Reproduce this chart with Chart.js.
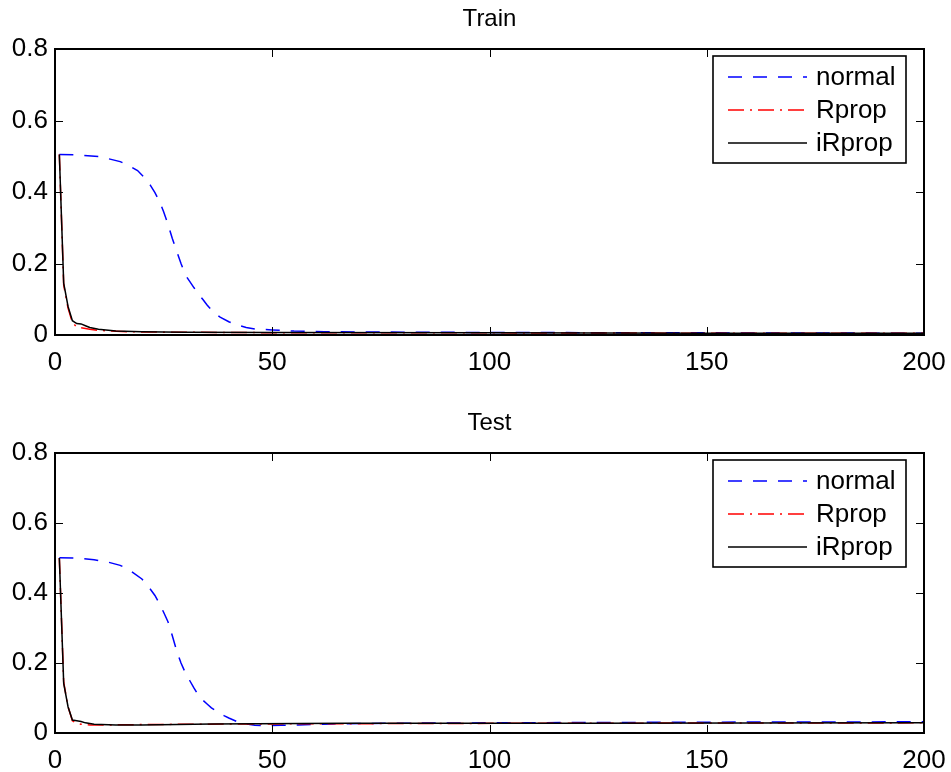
<!DOCTYPE html>
<html>
<head>
<meta charset="utf-8">
<title>Train / Test</title>
<script src="https://cdn.jsdelivr.net/npm/chart.js@4.4.1/dist/chart.umd.min.js"></script>
<style>
  body { margin: 0; background: #fff; width: 951px; height: 772px; position: relative; overflow: hidden; }
  .plot { position: absolute; left: 0; width: 951px; height: 386px; }
</style>
</head>
<body>
<div class="plot" style="top:0"><canvas id="trainChart"></canvas></div>
<div class="plot" style="top:386px"><canvas id="testChart"></canvas></div>
<script>
// axis ticks
const xTicks = [0, 50, 100, 150, 200];
const yTicks = [0, 0.2, 0.4, 0.6, 0.8];
const seriesNames = ['normal', 'Rprop', 'iRprop'];

// Train - error per iteration
const trainNormalIter = [1, 5, 10, 12, 15, 17, 19, 21, 22, 23, 24, 25, 26, 27, 28, 29, 30, 31, 32, 33, 34, 35, 36, 37, 38, 40, 42, 44, 46, 50, 55, 62, 80, 100, 150, 200];
const trainNormal     = [0.505, 0.504, 0.499, 0.494, 0.485, 0.474, 0.46, 0.435, 0.418, 0.398, 0.375, 0.345, 0.31, 0.27, 0.235, 0.2, 0.168, 0.15, 0.132, 0.115, 0.1, 0.084, 0.07, 0.059, 0.05, 0.037, 0.028, 0.021, 0.017, 0.014, 0.011, 0.009, 0.008, 0.007, 0.006, 0.005];
const trainRpropIter  = [1, 2, 3, 4, 5, 6, 8, 10, 13, 17, 25, 40, 60, 100, 150, 200];
const trainRprop      = [0.505, 0.14, 0.075, 0.035, 0.022, 0.02, 0.016, 0.013, 0.011, 0.009, 0.008, 0.007, 0.006, 0.006, 0.005, 0.005];
const trainIRpropIter = [1, 2, 3, 4, 5, 6, 7, 8, 10, 14, 20, 30, 50, 100, 150, 200];
const trainIRprop     = [0.505, 0.145, 0.08, 0.04, 0.032, 0.031, 0.026, 0.021, 0.016, 0.011, 0.009, 0.008, 0.007, 0.006, 0.005, 0.005];

// Test
const testNormalIter = [1, 5, 9, 12, 15, 17, 20, 22, 23, 24, 25, 26, 27, 28, 29, 30, 31, 32, 33, 34, 35, 36, 37, 38, 39, 40, 42, 44, 46, 48, 52, 56, 64, 80, 100, 150, 200];
const testNormal     = [0.501, 0.5, 0.495, 0.489, 0.479, 0.467, 0.44, 0.41, 0.393, 0.37, 0.345, 0.318, 0.278, 0.235, 0.2, 0.172, 0.15, 0.128, 0.108, 0.094, 0.083, 0.072, 0.064, 0.056, 0.049, 0.043, 0.032, 0.026, 0.022, 0.021, 0.022, 0.023, 0.026, 0.028, 0.029, 0.031, 0.032];
const testRpropIter  = [1, 2, 3, 4, 5, 6, 8, 12, 20, 30, 50, 80, 120, 200];
const testRprop      = [0.5, 0.145, 0.075, 0.035, 0.028, 0.025, 0.023, 0.023, 0.024, 0.025, 0.026, 0.027, 0.028, 0.029];
const testIRpropIter = [1, 2, 3, 4, 5, 6, 7, 9, 14, 20, 36, 67, 120, 200];
const testIRprop     = [0.5, 0.142, 0.075, 0.037, 0.035, 0.033, 0.029, 0.025, 0.023, 0.023, 0.026, 0.028, 0.028, 0.029];

const FONT = 'Liberation Sans, Arial, Helvetica, sans-serif';

function toPoints(iters, vals) {
  return iters.map((it, i) => ({ x: it, y: vals[i] }));
}

function makeDatasets(n, r, ir) {
  return [
    { label: seriesNames[0], data: n, borderColor: '#0000ff', borderDash: [14, 11], borderWidth: 1.5, order: 3 },
    { label: seriesNames[1], data: r, borderColor: '#ff0000', borderDash: [16, 6, 2, 6], borderWidth: 1.5, order: 2 },
    { label: seriesNames[2], data: ir, borderColor: '#000000', borderDash: [], borderWidth: 1.5, order: 1 }
  ];
}

// matlab style box, inward ticks, title and legend
const matlabAxes = {
  id: 'matlabAxes',
  afterDatasetsDraw(chart, args, opts) {
    const { ctx, chartArea: a, scales: { x, y } } = chart;
    ctx.save();
    ctx.strokeStyle = '#000';
    ctx.lineWidth = 1;
    ctx.setLineDash([]);
    ctx.beginPath();
    x.ticks.forEach(t => {
      const px = Math.round(x.getPixelForValue(t.value)) + 0.5;
      ctx.moveTo(px, a.bottom); ctx.lineTo(px, a.bottom - 8);
      ctx.moveTo(px, a.top); ctx.lineTo(px, a.top + 8);
    });
    y.ticks.forEach(t => {
      const py = Math.round(y.getPixelForValue(t.value)) + 0.5;
      ctx.moveTo(a.left, py); ctx.lineTo(a.left + 8, py);
      ctx.moveTo(a.right, py); ctx.lineTo(a.right - 8, py);
    });
    ctx.stroke();
    ctx.lineWidth = 2;
    ctx.strokeRect(a.left, a.top, a.right - a.left, a.bottom - a.top);

    // title
    ctx.fillStyle = '#000';
    ctx.font = '24px ' + FONT;
    ctx.textAlign = 'center';
    ctx.textBaseline = 'middle';
    ctx.fillText(opts.title, (a.left + a.right) / 2, a.top - 30);

    // legend
    const bx = a.right - 211, by = a.top + 7, bw = 193, bh = 107;
    ctx.fillStyle = '#fff';
    ctx.fillRect(bx, by, bw, bh);
    ctx.lineWidth = 1.6;
    ctx.strokeRect(bx, by, bw, bh);
    ctx.font = '26px ' + FONT;
    ctx.textAlign = 'left';
    chart.data.datasets.forEach((ds, i) => {
      const ly = by + 21 + i * 33;
      ctx.strokeStyle = ds.borderColor;
      ctx.lineWidth = ds.borderWidth;
      ctx.setLineDash(ds.borderDash);
      ctx.beginPath();
      ctx.moveTo(bx + 15, ly);
      ctx.lineTo(bx + 94, ly);
      ctx.stroke();
      ctx.setLineDash([]);
      ctx.fillStyle = '#000';
      ctx.fillText(ds.label, bx + 103, ly + 1);
    });
    ctx.restore();
  }
};

function makeChart(id, title, datasets, padTop, xHeight) {
  return new Chart(document.getElementById(id), {
    type: 'line',
    data: { datasets },
    options: {
      responsive: true,
      maintainAspectRatio: false,
      animation: false,
      layout: { padding: { top: padTop, right: 27, left: 0, bottom: 0 } },
      elements: { point: { radius: 0 }, line: { tension: 0, fill: false } },
      plugins: {
        legend: { display: false },
        tooltip: { enabled: false },
        matlabAxes: { title }
      },
      scales: {
        x: {
          type: 'linear',
          min: 0, max: 200,
          afterBuildTicks: s => { s.ticks = xTicks.map(v => ({ value: v })); },
          afterFit: s => { s.height = xHeight; s.paddingLeft = 0; s.paddingRight = 0; },
          grid: { display: false, drawTicks: false },
          border: { display: false },
          ticks: { padding: 12, color: '#000', font: { family: FONT, size: 26 }, maxRotation: 0 }
        },
        y: {
          min: 0, max: 0.8,
          afterBuildTicks: s => { s.ticks = yTicks.map(v => ({ value: v })); },
          afterFit: s => { s.width = 55; s.paddingTop = 0; s.paddingBottom = 0; },
          grid: { display: false, drawTicks: false },
          border: { display: false },
          ticks: { padding: 7, color: '#000', font: { family: FONT, size: 26 }, callback: v => String(v) }
        }
      }
    },
    plugins: [matlabAxes]
  });
}

makeChart('trainChart', 'Train',
  makeDatasets(toPoints(trainNormalIter, trainNormal), toPoints(trainRpropIter, trainRprop), toPoints(trainIRpropIter, trainIRprop)),
  49, 51);
makeChart('testChart', 'Test',
  makeDatasets(toPoints(testNormalIter, testNormal), toPoints(testRpropIter, testRprop), toPoints(testIRpropIter, testIRprop)),
  67, 39);
</script>
</body>
</html>
